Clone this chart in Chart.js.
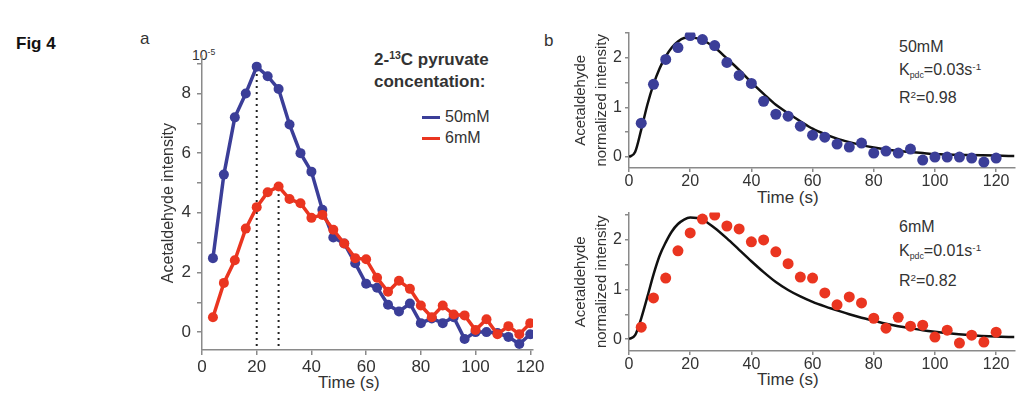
<!DOCTYPE html>
<html>
<head>
<meta charset="utf-8">
<script src="https://cdn.jsdelivr.net/npm/chart.js@4/dist/chart.umd.min.js"></script>
<style>
body { margin: 0; width: 1020px; height: 397px; background: #fff; position: relative; overflow: hidden;
       font-family: "Liberation Sans", Arial, sans-serif; color: #333; }
canvas { position: absolute; }
.t { position: absolute; white-space: nowrap; }
.sup { font-size: 0.62em; vertical-align: 0.55em; }
.sub { font-size: 0.55em; vertical-align: -0.25em; }
.key { display: inline-block; width: 18px; height: 3px; vertical-align: middle; margin-right: 5px; }
</style>
</head>
<body>

<div class="t" style="left:16px;top:34px;font-size:17px;font-weight:bold;color:#111">Fig 4</div>
<div class="t" style="left:140px;top:29px;font-size:17px">a</div>
<div class="t" style="left:544px;top:31px;font-size:17px">b</div>

<div class="t" style="left:192px;top:44px;font-size:14px;line-height:16px">10<span class="sup">-5</span></div>
<div class="t" style="left:374px;top:44px;font-size:17px;font-weight:bold;line-height:22px">2-<span class="sup">13</span>C pyruvate<br>concentation:</div>
<div class="t" style="left:422px;top:106px;font-size:16px;line-height:21px">
  <div><span class="key" style="background:#3b3e98"></span>50mM</div>
  <div><span class="key" style="background:#ea3520"></span>6mM</div>
</div>

<div class="t" style="left:899px;top:37px;font-size:16px;line-height:20px">50mM<br>K<span class="sub">pdc</span>=0.03s<span class="sup">-1</span><br>R<span class="sup">2</span>=0.98</div>
<div class="t" style="left:899px;top:216px;font-size:16px;line-height:21px">6mM<br>K<span class="sub">pdc</span>=0.01s<span class="sup">-1</span><br>R<span class="sup">2</span>=0.82</div>

<div class="t" style="left:318px;top:373px;font-size:17px;line-height:20px">Time (s)</div>
<div class="t" style="left:757px;top:188px;font-size:17px;line-height:20px">Time (s)</div>
<div class="t" style="left:757px;top:370px;font-size:17px;line-height:20px">Time (s)</div>

<canvas id="chartA" width="410" height="350" style="left:140px;top:40px"></canvas>
<canvas id="chartB1" width="464" height="175" style="left:556px;top:20px"></canvas>
<canvas id="chartB2" width="464" height="175" style="left:556px;top:200px"></canvas>

<script>
// panel a: raw intensity (x1e-5), sampled every 4 s
const timesA = [4, 8, 12, 16, 20, 24, 28, 32, 36, 40, 44, 48, 52, 56, 60, 64, 68, 72, 76, 80, 84, 88, 92, 96, 100, 104, 108, 112, 116, 120];
const blue50 = [2.48, 5.28, 7.2, 8.0, 8.9, 8.58, 8.15, 6.96, 6.0, 5.38, 4.1, 3.17, 2.97, 2.31, 1.62, 1.49, 0.92, 0.69, 0.96, 0.3, 0.46, 0.3, 0.5, -0.23, 0, 0, -0.03, -0.16, -0.4, -0.07];
const red6 = [0.5, 1.65, 2.41, 3.47, 4.19, 4.69, 4.88, 4.46, 4.32, 3.83, 3.93, 3.43, 2.97, 2.48, 2.44, 1.82, 1.35, 1.72, 1.45, 0.89, 0.5, 0.89, 0.59, 0.56, 0.07, 0.43, -0.07, 0.2, -0.07, 0.3];
const peakTimes = [20, 28];   // dotted markers (50mM, 6mM)
const xTicksA = [0, 20, 40, 60, 80, 100, 120];
const yTicksA = [0, 1, 2, 3, 4, 5, 6, 7, 8, 9];
const yLabelsA = [0, 2, 4, 6, 8];

// panel b: normalized intensity + model fit
const norm50 = [0.68, 1.46, 1.96, 2.2, 2.44, 2.36, 2.24, 1.9, 1.64, 1.48, 1.12, 0.86, 0.82, 0.62, 0.44, 0.4, 0.26, 0.2, 0.28, 0.08, 0.12, 0.08, 0.16, -0.06, 0, 0, 0, -0.02, -0.1, -0.02];
const norm6 = [0.24, 0.83, 1.23, 1.78, 2.14, 2.42, 2.5, 2.28, 2.22, 1.96, 2.0, 1.76, 1.52, 1.25, 1.23, 0.93, 0.69, 0.85, 0.73, 0.42, 0.22, 0.44, 0.26, 0.28, 0.04, 0.18, -0.08, 0.08, -0.06, 0.14];
const fitTimes = [0, 2, 4, 6, 8, 10, 12, 14, 16, 18, 20, 24, 28, 32, 36, 40, 44, 48, 52, 56, 60, 64, 68, 72, 76, 80, 84, 88, 92, 96, 100, 110, 120, 126];
const fit50 = [0, 0.1, 0.55, 1.05, 1.46, 1.78, 2.02, 2.2, 2.32, 2.39, 2.4, 2.35, 2.2, 1.98, 1.75, 1.5, 1.27, 1.05, 0.88, 0.72, 0.57, 0.46, 0.37, 0.3, 0.24, 0.19, 0.15, 0.12, 0.1, 0.08, 0.06, 0.04, 0.03, 0.02];
const fit6 = [0, 0.08, 0.42, 0.85, 1.3, 1.68, 1.95, 2.17, 2.32, 2.41, 2.45, 2.41, 2.24, 2.03, 1.8, 1.57, 1.35, 1.15, 0.99, 0.86, 0.75, 0.66, 0.58, 0.5, 0.43, 0.37, 0.31, 0.26, 0.22, 0.18, 0.15, 0.09, 0.05, 0.04];
const xTicksB = [0, 20, 40, 60, 80, 100, 120];
const yTicksB = [0, 0.5, 1, 1.5, 2, 2.5];
const yLabelsB = [0, 1, 2];

const BLUE = '#3b3e98';
const RED = '#ea3520';
const AXIS = '#8a8a8a';
const FONT = '"Liberation Sans", Arial, sans-serif';

const pts = (xs, ys) => xs.map((x, i) => ({ x: x, y: ys[i] }));

function axes(o) {
    return {
        x: {
            type: 'linear', min: o.xMin, max: o.xMax,
            afterBuildTicks: s => { s.ticks = o.xTicks.map(v => ({ value: v })); },
            afterFit: s => { s.height = o.xH; },
            grid: { drawOnChartArea: false, drawTicks: true, tickLength: o.tickLen, color: AXIS, lineWidth: 1.5 },
            border: { display: true, color: AXIS, width: 1.5 },
            ticks: { autoSkip: false, maxRotation: 0, padding: o.xPad, color: '#333', font: { family: FONT, size: o.fontSize } }
        },
        y: {
            type: 'linear', min: o.yMin, max: o.yMax,
            afterBuildTicks: s => { s.ticks = o.yTicks.map(v => ({ value: v })); },
            afterFit: s => { s.width = o.yW; },
            grid: { drawOnChartArea: false, drawTicks: true, tickLength: o.tickLen, color: AXIS, lineWidth: 1.5 },
            border: { display: true, color: AXIS, width: 1.5 },
            ticks: { autoSkip: false, padding: o.yPad, color: '#333', font: { family: FONT, size: o.fontSize },
                     callback: v => o.yLabels.includes(v) ? String(v) : '' },
            title: { display: true, text: o.yTitle, color: '#333', font: { family: FONT, size: o.titleSize, lineHeight: o.titleLH },
                     padding: { top: 4, bottom: 4 } }
        }
    };
}

const baseOpts = {
    responsive: false, animation: false,
    plugins: { legend: { display: false }, tooltip: { enabled: false } }
};

// --- panel a ---
const iBlue = timesA.indexOf(peakTimes[0]);
const iRed = timesA.indexOf(peakTimes[1]);
const yMinA = -0.6;
new Chart(document.getElementById('chartA'), {
    type: 'line',
    data: {
        datasets: [
            { data: pts(timesA, blue50), borderColor: BLUE, backgroundColor: BLUE, borderWidth: 3.5,
              pointRadius: 5, pointBorderWidth: 0, tension: 0, order: 2 },
            { data: pts(timesA, red6), borderColor: RED, backgroundColor: RED, borderWidth: 3.5,
              pointRadius: 5, pointBorderWidth: 0, tension: 0, order: 1 },
            { data: [{ x: peakTimes[0], y: blue50[iBlue] - 0.25 }, { x: peakTimes[0], y: yMinA }], borderColor: '#222',
              borderWidth: 2, borderDash: [2, 4], pointRadius: 0, order: 3 },
            { data: [{ x: peakTimes[1], y: red6[iRed] - 0.25 }, { x: peakTimes[1], y: yMinA }], borderColor: '#222',
              borderWidth: 2, borderDash: [2, 4], pointRadius: 0, order: 3 }
        ]
    },
    options: Object.assign({}, baseOpts, {
        layout: { padding: { left: 15, top: 10, right: 17, bottom: 0 } },
        scales: axes({ xMin: 0, xMax: 121, xTicks: xTicksA, xH: 40, yMin: yMinA, yMax: 9.25, yTicks: yTicksA,
                       yLabels: yLabelsA, yW: 47, tickLen: 5, xPad: 2, yPad: 6, fontSize: 17,
                       yTitle: 'Acetaldehyde intensity', titleSize: 16, titleLH: 1.2 })
    })
});

// --- panel b ---
function panelB(id, data, fit, color, yMin, yMax, xH) {
    new Chart(document.getElementById(id), {
        type: 'line',
        data: {
            datasets: [
                { data: pts(fitTimes, fit), borderColor: '#111', borderWidth: 2.5, pointRadius: 0,
                  cubicInterpolationMode: 'monotone', order: 2 },
                { data: pts(timesA, data), showLine: false, backgroundColor: color, borderColor: color,
                  pointRadius: 5.5, pointBorderWidth: 0, order: 1 }
            ]
        },
        options: Object.assign({}, baseOpts, {
            layout: { padding: { left: 10, top: 12, right: 3, bottom: 0 } },
            scales: axes({ xMin: 0, xMax: 126, xTicks: xTicksB, xH: xH, yMin: yMin, yMax: yMax, yTicks: yTicksB,
                           yLabels: yLabelsB, yW: 63, tickLen: 4, xPad: 0, yPad: 3, fontSize: 16,
                           yTitle: ['Acetaldehyde', 'normalized intensity'], titleSize: 15, titleLH: 1.4 })
        })
    });
}
panelB('chartB1', norm50, fit50, BLUE, -0.22, 2.5, 27);
panelB('chartB2', norm6, fit6, RED, -0.24, 2.55, 24);
</script>
</body>
</html>
